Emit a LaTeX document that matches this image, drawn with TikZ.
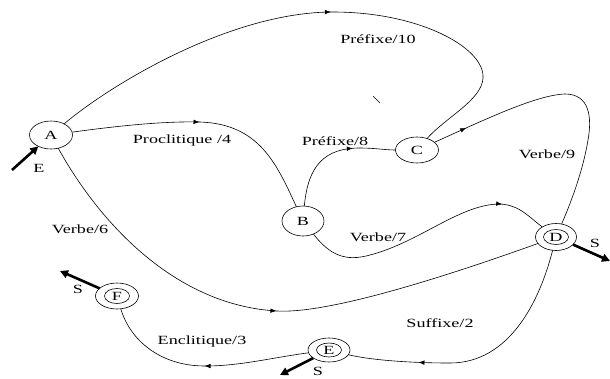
\documentclass[tikz,border=0pt]{standalone}
\usepackage{fontspec}
\setmainfont{Liberation Serif}[FakeStretch=1.45]
\usetikzlibrary{arrows.meta,decorations.markings,shapes.geometric}

\tikzset{
  state/.style={ellipse, draw, line width=0.6pt, inner sep=0pt, outer sep=0pt,
    font=\fontsize{12.5}{14}\selectfont},
  trans/.style={line width=0.6pt},
  tipat/.style={postaction={decorate}, decoration={markings,
    mark=at position #1 with {\arrow{Latex[length=6pt,width=4.5pt]}}}},
  io/.style={line width=2.6pt, -{Triangle[length=8pt,width=8pt]}},
  lbl/.style={font=\fontsize{12.5}{14}\selectfont, inner sep=0pt},
}

\begin{document}
\begin{tikzpicture}[x=1pt, y=-1pt]
\useasboundingbox (0,0) rectangle (610,378);

% states
\node[state, minimum width=43pt, minimum height=28pt] (A) at (51,135) {A};
\node[state, minimum width=42pt, minimum height=30pt] (B) at (303,221) {B};
\node[state, minimum width=43pt, minimum height=26pt] (C) at (417,150) {C};
\node[state, minimum width=41pt, minimum height=27pt] (D) at (556,237) {D};
\node[state, minimum width=42pt, minimum height=24pt] (E) at (329,350) {E};
\node[state, minimum width=43pt, minimum height=26pt] (F) at (117,296) {F};

% inner rings of the final states
\draw[line width=0.6pt] (D.center) ellipse [x radius=12.5pt, y radius=7.5pt];
\draw[line width=0.6pt] (E.center) ellipse [x radius=12.5pt, y radius=7pt];
\draw[line width=0.6pt] (F.center) ellipse [x radius=12.5pt, y radius=7.5pt];

% transitions
\draw[trans, tipat=294pt] (A) .. controls (110,85) and (230,12) .. (333,12)
  .. controls (420,12) and (485,48) .. (483,78)
  .. controls (482,100) and (445,118) .. (C);
\draw[trans, tipat=128pt] (A) .. controls (110,127) and (160,121) .. (200,122)
  .. controls (260,124) and (277,165) .. (B);
\draw[trans, tipat=84pt] (B) .. controls (308,165) and (325,148) .. (360,148)
  .. controls (375,148) and (385,150) .. (C);
\draw[trans, tipat=35pt] (C) .. controls (480,122) and (535,95) .. (565,94)
  .. controls (590,94) and (592,118) .. (588,140)
  .. controls (583,170) and (572,200) .. (D);
\draw[trans, tipat=208pt] (B) .. controls (330,255) and (345,262) .. (370,255)
  .. controls (420,242) and (460,204) .. (500,204)
  .. controls (520,205) and (530,218) .. (D);
\draw[trans, tipat=284pt] (A) .. controls (95,215) and (170,305) .. (277,311)
  .. controls (330,314) and (450,275) .. (D);
\draw[trans, tipat=196pt] (D) .. controls (540,300) and (510,363) .. (450,363)
  .. controls (410,363) and (370,360) .. (E);
\draw[trans, tipat=105pt] (E) .. controls (270,358) and (240,366) .. (205,366)
  .. controls (160,366) and (130,340) .. (F);

% transition labels
\node[lbl] (l10) at (378,39) {Préfixe/10};
\node[lbl] (l4) at (182,140) {Proclitique /4};
\node[lbl] (l8) at (335,141) {Préfixe/8};
\node[lbl] (l9) at (547,154) {Verbe/9};
\node[lbl] (l7) at (378,237) {Verbe/7};
\node[lbl] (l6) at (80,229) {Verbe/6};
\node[lbl] (l2) at (440,323) {Suffixe/2};
\node[lbl] (l3) at (202,341) {Enclitique/3};

% entry and exit arrows
\coordinate (inA) at (12,170);
\coordinate (outD) at (610,261);
\coordinate (outF) at (60,271);
\coordinate (outE) at (280,375);
\draw[io] (inA) -- (A);
\draw[io] (D) -- (outD);
\draw[io] (F) -- (outF);
\draw[io] (E) -- (outE);
\node[lbl] (sE) at (39,168) {E};
\node[lbl] (sD) at (595,243) {S};
\node[lbl] (sF) at (78,289) {S};
\node[lbl] (sE2) at (318,371) {S};

% small stray stroke
\draw[line width=0.5pt] (373,96) -- (380,103);
\end{tikzpicture}
\end{document}
